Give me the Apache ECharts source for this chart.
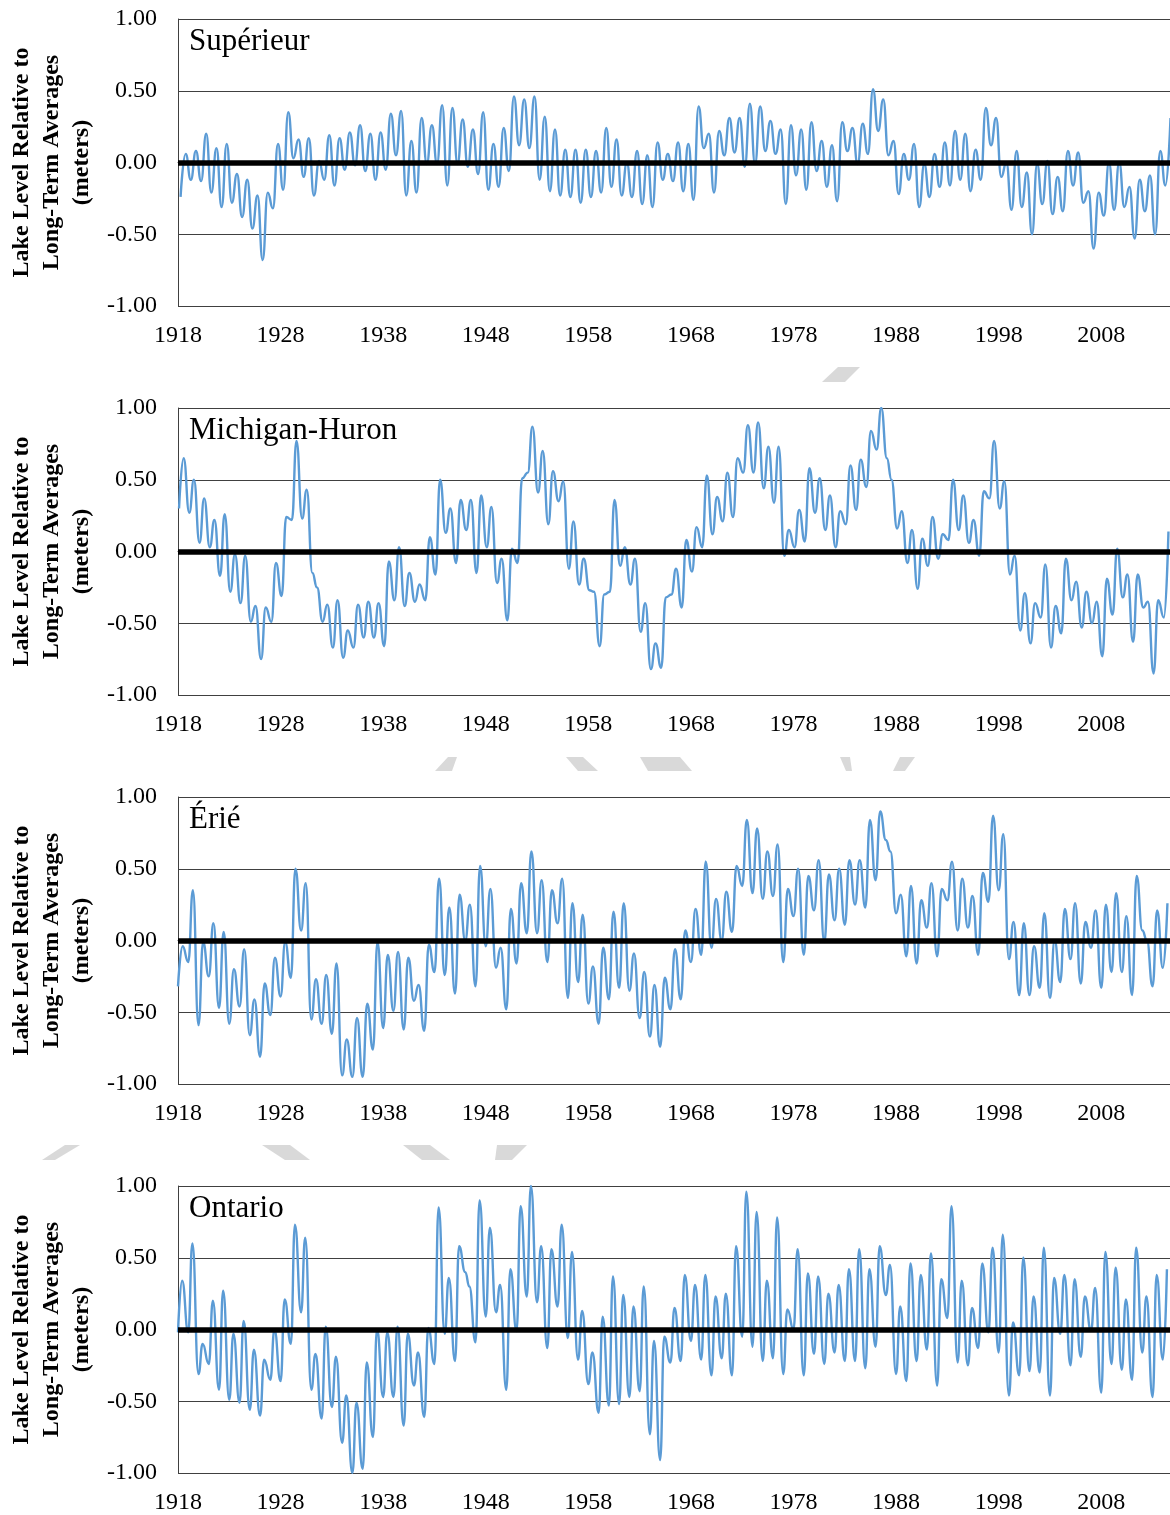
<!DOCTYPE html>
<html>
<head>
<meta charset="utf-8">
<title>Lake levels</title>
<script src="https://cdn.jsdelivr.net/npm/echarts@6.0.0/dist/echarts.min.js"></script>
<style>
  html, body { margin: 0; padding: 0; background: #fff; }
  #main { width: 1170px; height: 1515px; }
</style>
</head>
<body>
<div id="main"></div>
<script>
// années 1918 - 2014, un creux et un sommet par année (m, écart à la moyenne)
var FIRST_YEAR = 1918;
var LAKE_NAMES = ['Supérieur', 'Michigan-Huron', 'Érié', 'Ontario'];

var supLow = [-0.24,-0.12,-0.13,-0.21,-0.31,-0.28,-0.38,-0.46,-0.68,-0.32,
  -0.19,0.03,-0.10,-0.23,-0.12,-0.16,-0.05,-0.02,-0.06,-0.12,
  -0.05,0.05,-0.23,-0.21,-0.01,-0.01,-0.16,-0.01,-0.03,-0.08,
  -0.19,-0.17,-0.06,0.12,0.10,-0.12,-0.20,-0.23,-0.24,-0.28,
  -0.24,-0.21,-0.17,-0.23,-0.24,-0.29,-0.31,-0.12,-0.13,-0.20,
  -0.26,0.10,-0.21,0.05,0.07,-0.03,-0.01,0.08,0.06,-0.29,
  -0.09,-0.19,-0.06,-0.17,-0.27,0.08,-0.01,0.06,0.22,0.05,
  -0.22,-0.12,-0.31,-0.24,-0.17,-0.16,-0.12,-0.20,-0.12,0.12,
  -0.10,-0.33,-0.31,-0.50,-0.29,-0.36,-0.34,-0.16,-0.28,-0.60,
  -0.37,-0.33,-0.31,-0.53,-0.34,-0.50,-0.16];
var supHigh = [0.06,0.08,0.20,0.10,0.13,-0.08,-0.12,-0.23,-0.21,0.13,
  0.35,0.16,0.17,0.01,0.19,0.17,0.21,0.26,0.20,0.21,
  0.34,0.36,0.15,0.31,0.26,0.40,0.38,0.30,0.23,0.35,
  0.13,0.24,0.46,0.44,0.46,0.32,0.23,0.09,0.09,0.09,
  0.08,0.24,0.16,0.00,0.08,0.05,0.14,0.06,0.14,0.13,
  0.39,0.20,0.22,0.31,0.31,0.41,0.39,0.29,0.23,0.26,
  0.23,0.28,0.15,0.12,0.28,0.24,0.27,0.51,0.44,0.15,
  0.06,0.13,-0.01,0.06,0.14,0.22,0.20,0.09,0.38,0.31,
  0.00,0.08,-0.07,-0.01,0.01,-0.10,0.08,0.07,-0.20,-0.21,
  0.00,0.00,-0.17,-0.12,-0.09,0.08,0.31];

var mhLow = [0.30,0.27,0.06,0.03,-0.17,-0.28,-0.36,-0.49,-0.75,-0.49,
  -0.31,0.22,0.23,-0.15,-0.49,-0.67,-0.74,-0.67,-0.60,-0.60,
  -0.66,-0.34,-0.38,-0.35,-0.34,-0.16,0.13,-0.08,0.15,-0.15,
  0.03,-0.22,-0.48,-0.08,0.55,0.41,0.19,0.35,-0.12,-0.23,
  -0.27,-0.66,-0.28,-0.10,-0.23,-0.56,-0.82,-0.81,-0.30,-0.39,
  -0.14,0.03,0.12,0.21,0.24,0.55,0.55,0.44,0.34,-0.03,
  0.03,0.07,0.27,0.15,0.03,0.19,0.29,0.45,0.71,0.65,
  0.16,-0.08,-0.26,-0.10,-0.05,0.08,0.15,0.06,-0.03,0.37,
  0.30,-0.16,-0.55,-0.64,-0.46,-0.67,-0.57,-0.34,-0.53,-0.50,
  -0.73,-0.44,-0.32,-0.63,-0.39,-0.85,-0.46];
var mhHigh = [0.65,0.50,0.37,0.22,0.26,-0.02,-0.03,-0.38,-0.39,-0.08,
  0.24,0.77,0.43,-0.25,-0.37,-0.34,-0.55,-0.37,-0.35,-0.36,
  -0.07,0.03,-0.15,-0.23,0.10,0.50,0.30,0.36,0.36,0.39,
  0.31,-0.05,0.02,0.51,0.87,0.70,0.56,0.49,0.21,-0.05,
  -0.28,-0.30,0.36,0.03,-0.05,-0.36,-0.64,-0.32,-0.12,0.08,
  0.17,0.53,0.38,0.55,0.65,0.88,0.90,0.73,0.73,0.15,
  0.29,0.58,0.51,0.39,0.28,0.60,0.64,0.84,1.00,0.50,
  0.28,0.15,0.09,0.24,0.12,0.50,0.39,0.22,0.42,0.77,
  0.49,-0.03,-0.29,-0.36,-0.09,-0.38,-0.05,-0.21,-0.28,-0.35,
  -0.19,0.02,-0.16,-0.16,-0.35,-0.34,0.14];

var erieLow = [-0.32,-0.15,-0.59,-0.25,-0.47,-0.58,-0.46,-0.66,-0.81,-0.52,
  -0.39,-0.26,0.07,-0.55,-0.58,-0.65,-0.94,-0.95,-0.95,-0.76,
  -0.61,-0.49,-0.62,-0.42,-0.63,-0.22,-0.24,-0.37,0.00,-0.32,
  -0.04,-0.19,-0.48,-0.16,0.05,0.05,-0.15,0.12,-0.40,-0.29,
  -0.44,-0.58,-0.41,-0.33,-0.35,-0.54,-0.67,-0.74,-0.48,-0.41,
  -0.15,-0.10,-0.05,0.00,0.06,0.38,0.33,0.29,0.31,-0.15,
  0.17,-0.10,0.21,-0.01,0.14,0.11,0.25,0.23,0.42,0.70,
  0.19,-0.11,-0.16,0.09,-0.11,0.28,0.07,0.09,-0.10,0.27,
  0.35,-0.13,-0.38,-0.38,-0.33,-0.40,-0.29,-0.13,-0.30,-0.05,
  -0.33,-0.22,-0.22,-0.38,0.07,-0.32,-0.19];
var erieHigh = [-0.04,0.35,-0.01,0.12,0.06,-0.20,-0.06,-0.41,-0.30,-0.12,
  -0.01,0.50,0.40,-0.27,-0.24,-0.16,-0.69,-0.54,-0.44,-0.01,
  -0.10,-0.08,-0.12,-0.31,-0.03,0.43,0.23,0.32,0.25,0.52,
  0.36,-0.05,0.22,0.40,0.62,0.42,0.35,0.43,0.26,0.18,
  -0.18,-0.05,0.20,0.26,-0.09,-0.22,-0.31,-0.26,-0.06,0.07,
  0.22,0.55,0.29,0.34,0.52,0.84,0.78,0.62,0.67,0.36,
  0.50,0.45,0.56,0.46,0.50,0.56,0.56,0.84,0.90,0.62,
  0.32,0.38,0.28,0.40,0.36,0.55,0.43,0.31,0.47,0.87,
  0.74,0.13,0.12,-0.04,0.19,0.00,0.22,0.26,0.13,0.21,
  0.25,0.33,0.17,0.45,0.00,0.21,0.26];

var ontLow = [-0.02,-0.02,-0.31,-0.24,-0.42,-0.49,-0.51,-0.56,-0.60,-0.35,
  -0.36,-0.10,0.12,-0.42,-0.62,-0.54,-0.79,-1.00,-0.97,-0.75,
  -0.47,-0.47,-0.67,-0.39,-0.61,-0.24,-0.03,-0.22,0.40,-0.09,
  0.09,0.12,-0.42,-0.01,0.23,0.19,-0.13,0.16,-0.06,-0.21,
  -0.38,-0.58,-0.53,-0.52,-0.47,-0.43,-0.73,-0.91,-0.23,-0.22,
  -0.08,-0.21,-0.32,-0.20,-0.32,-0.05,-0.12,-0.22,-0.20,-0.31,
  0.00,-0.32,-0.17,-0.24,-0.16,-0.22,-0.22,-0.27,-0.12,0.24,
  -0.31,-0.36,-0.22,-0.14,-0.39,0.08,-0.23,-0.25,-0.13,-0.02,
  -0.16,-0.46,-0.32,-0.29,-0.30,-0.46,-0.03,-0.25,-0.19,-0.01,
  -0.44,-0.24,-0.28,-0.35,-0.16,-0.47,-0.21];
var ontHigh = [0.34,0.60,-0.10,0.20,0.27,-0.03,0.06,-0.14,-0.21,0.00,
  0.21,0.73,0.64,-0.17,0.02,-0.19,-0.46,-0.51,-0.23,0.00,
  -0.02,0.02,-0.03,-0.16,0.01,0.85,0.36,0.58,0.30,0.90,
  0.71,0.31,0.42,0.86,1.00,0.58,0.56,0.73,0.54,0.13,
  -0.16,0.09,0.37,0.24,0.16,0.30,-0.08,-0.05,0.15,0.38,
  0.31,0.38,0.23,0.25,0.58,0.96,0.82,0.34,0.78,0.14,
  0.56,0.39,0.37,0.25,0.31,0.42,0.56,0.42,0.58,0.45,
  0.16,0.46,0.38,0.53,0.35,0.86,0.34,0.15,0.46,0.57,
  0.66,0.05,0.50,0.23,0.57,0.36,0.38,0.35,0.23,0.29,
  0.54,0.43,0.21,0.57,0.23,0.38,0.42];

// décalage dans l'année du creux et du sommet
var lakes = [
  {lo: supLow, hi: supHigh, pLo: 0.25, pHi: 0.75},
  {lo: mhLow, hi: mhHigh, pLo: 0.10, pHi: 0.55},
  {lo: erieLow, hi: erieHigh, pLo: 0.00, pHi: 0.45},
  {lo: ontLow, hi: ontHigh, pLo: 0.00, pHi: 0.40}
];

var SERIF = '"Liberation Serif", "Times New Roman", serif';
var GRID_TOP = [19, 408, 797, 1186];
var GRID_H = 287;
var X_MAX = 96.7;

function buildData(lake) {
    var d = [];
    for (var i = 0; i < lake.lo.length; i++) {
        d.push([i + lake.pLo, lake.lo[i]]);
        d.push([i + lake.pHi, lake.hi[i]]);
    }
    return d;
}

var grids = [], xAxes = [], yAxes = [], series = [], graphics = [];
for (var k = 0; k < 4; k++) {
    grids.push({left: 178, right: 0, top: GRID_TOP[k], height: GRID_H});
    xAxes.push({
        type: 'value', gridIndex: k, min: 0, max: X_MAX, interval: 10,
        axisLine: {show: true, lineStyle: {color: '#404040', width: 1}},
        axisTick: {show: false},
        splitLine: {show: false},
        axisLabel: {
            margin: 18, color: '#000', fontFamily: SERIF, fontSize: 24,
            showMaxLabel: false,
            formatter: function (v) { return String(FIRST_YEAR + v); }
        }
    });
    yAxes.push({
        type: 'value', gridIndex: k, min: -1, max: 1, interval: 0.5,
        axisLine: {show: true, lineStyle: {color: '#404040', width: 1}},
        axisTick: {show: false},
        splitLine: {show: true, lineStyle: {color: '#404040', width: 1}},
        axisLabel: {
            margin: 21, color: '#000', fontFamily: SERIF, fontSize: 24,
            formatter: function (v) { return v.toFixed(2); }
        }
    });
    series.push({
        type: 'line', xAxisIndex: k, yAxisIndex: k,
        data: buildData(lakes[k]),
        showSymbol: false, smooth: 0.5, smoothMonotone: 'x',
        lineStyle: {color: '#5B9BD5', width: 2.4},
        silent: true, animation: false,
        markLine: {
            silent: true, symbol: 'none', animation: false,
            label: {show: false},
            lineStyle: {color: '#000', width: 5.5, type: 'solid'},
            data: [{yAxis: 0}]
        }
    });
    // titre du lac
    graphics.push({
        type: 'text', x: 189, y: GRID_TOP[k] + 23,
        style: {
            text: LAKE_NAMES[k], font: '31px ' + SERIF, fill: '#000',
            textAlign: 'left', textVerticalAlign: 'middle', align: 'left', verticalAlign: 'middle'
        }
    });
    // titre de l'axe vertical
    graphics.push({
        type: 'text', x: 52, y: GRID_TOP[k] + GRID_H / 2, rotation: Math.PI / 2,
        style: {
            text: 'Lake Level Relative to\nLong-Term Averages\n(meters)',
            font: 'bold 24px ' + SERIF, fill: '#000', lineHeight: 30,
            textAlign: 'center', textVerticalAlign: 'middle', align: 'center', verticalAlign: 'middle'
        }
    });
}

// morceaux gris du fond entre les graphiques
var bgShapes = [
    [[838, 367], [860, 367], [845, 382], [822, 382]],
    [[448, 757], [457, 757], [452, 771], [435, 771]],
    [[566, 757], [583, 757], [598, 771], [578, 771]],
    [[640, 757], [680, 757], [692, 771], [648, 771]],
    [[840, 757], [850, 757], [852, 771], [846, 771]],
    [[900, 757], [915, 757], [905, 771], [893, 771]],
    [[65, 1145], [80, 1145], [55, 1160], [42, 1160]],
    [[262, 1145], [290, 1145], [310, 1160], [285, 1160]],
    [[403, 1145], [430, 1145], [450, 1160], [422, 1160]],
    [[497, 1145], [527, 1145], [512, 1160], [495, 1160]]
];
bgShapes.forEach(function (pts) {
    graphics.push({type: 'polygon', z: -1, shape: {points: pts}, style: {fill: '#d9d9d9'}});
});

var option = {
    animation: false,
    backgroundColor: '#fff',
    grid: grids,
    xAxis: xAxes,
    yAxis: yAxes,
    series: series,
    graphic: graphics
};

var myChart = echarts.init(document.getElementById('main'), null, {renderer: 'canvas'});
myChart.setOption(option);
</script>
</body>
</html>
